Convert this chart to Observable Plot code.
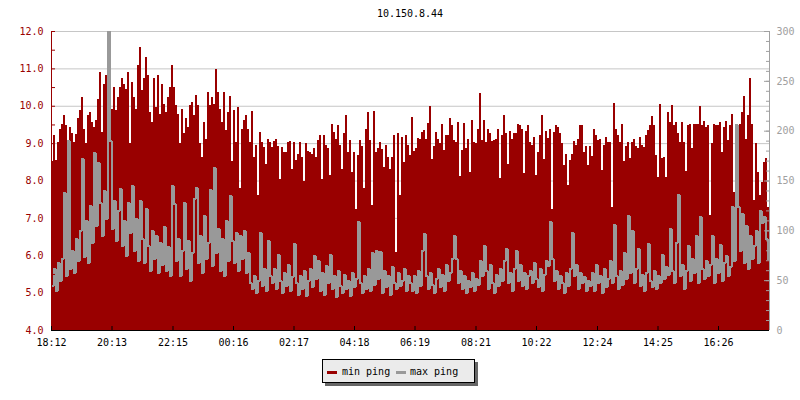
<!DOCTYPE html>
<html>
<head>
<meta charset="utf-8">
<script src="https://cdn.jsdelivr.net/npm/d3@7"></script>
<script src="https://cdn.jsdelivr.net/npm/@observablehq/plot@0.6"></script>
<style>
  body { margin: 0; background: #fff; }
  #wrap { position: relative; width: 800px; height: 400px; font-family: "DejaVu Sans Mono", monospace; font-size: 10px; color: #000; }
  #title { height: 22px; box-sizing: border-box; padding-top: 8px; line-height: 12px; margin-left: 51px; width: 718px; text-align: center; }
  #chart svg { display: block; }
  #legendArea { position: relative; height: 50px; }
  #legend { position: absolute; left: 322px; top: 9px; width: 151px; height: 22px; background: #ebebeb; border: 1px solid #000; box-shadow: 3px 3px 0 #666; }
  .sw { position: absolute; top: 11px; width: 10px; height: 3px; }
  .lt { position: absolute; top: 6px; line-height: 12px; white-space: nowrap; }
</style>
</head>
<body>
<div id="wrap">
  <div id="title"></div>
  <div id="chart"></div>
  <div id="legendArea"><div id="legend"></div></div>
</div>
<script>
const titleText = "10.150.8.44";
const seriesNames = ["min ping", "max ping"];
const seriesColors = ["#990000", "#999999"];

// time axis: minutes after 18:12, one sample every 4 minutes
const sampleMinutes = 4;
const xTickMinutes = [0, 121, 243, 364, 485, 606, 727, 849, 970, 1092, 1213, 1334];
const xTickLabels = ["18:12", "20:13", "22:15", "00:16", "02:17", "04:18", "06:19", "08:21", "10:22", "12:24", "14:25", "16:26"];
const xEnd = 1436;

const leftTicks = [4, 5, 6, 7, 8, 9, 10, 11, 12];
const leftMinorTicks = [4, 4.5, 5, 5.5, 6, 6.5, 7, 7.5, 8, 8.5, 9, 9.5, 10, 10.5, 11, 11.5, 12];
const rightTicks = [0, 50, 100, 150, 200, 250, 300];
const rightMinorTicks = [0,10,20,30,40,50,60,70,80,90,100,110,120,130,140,150,160,170,180,190,200,210,220,230,240,250,260,270,280,290,300];
const rightMax = 300;

// min ping (ms, left axis)
const minPing = [
  8.52, 9.21, 8.54, 9.02, 9.39, 9.51, 9.75, 9.48, 9.08, 9.43,
  9.26, 9.03, 9.25, 9.66, 9.88, 10.24, 9.39, 8.99, 9.75, 9.84,
  9.57, 9.43, 9.61, 10.19, 10.90, 9.30, 10.57, 10.81, 10.33, 11.26,
  9.92, 10.50, 9.88, 10.24, 10.50, 10.73, 10.59, 10.46, 10.90, 8.99,
  10.64, 10.24, 9.92, 11.08, 11.57, 10.41, 10.73, 11.30, 10.81, 9.84,
  9.57, 10.73, 9.97, 10.81, 9.79, 10.59, 10.06, 9.84, 10.24, 10.50,
  11.10, 10.50, 10.01, 9.79, 8.99, 9.92, 9.26, 9.66, 9.43, 10.01,
  10.10, 9.75, 10.28, 10.01, 8.99, 8.63, 9.57, 9.12, 10.37, 10.01,
  10.24, 10.06, 10.99, 10.37, 9.92, 9.57, 10.37, 9.35, 9.84,
  10.26, 8.52, 9.88, 9.03, 9.97, 7.79, 9.39, 9.61, 9.75, 9.37,
  9.03, 9.85, 8.63, 8.94, 7.61, 9.30, 9.02, 8.90, 8.45, 9.12,
  9.03, 8.90, 9.05, 9.12, 8.93, 8.05, 8.90, 8.77, 8.77, 9.02,
  9.05, 8.30, 9.02, 8.54, 8.72, 9.03, 8.63, 7.98, 8.99, 8.78,
  8.77, 8.72, 8.87, 8.63, 9.08, 9.21, 8.05, 9.21, 8.94, 8.86,
  8.14, 9.52, 9.30, 9.12, 9.48, 8.94, 8.32, 9.26, 9.75, 8.77,
  9.08, 8.23, 8.77, 7.25, 8.68, 9.08, 8.93, 7.79, 9.39, 9.84,
  9.08, 7.34, 9.85, 8.77, 8.86, 9.03, 8.84, 8.37, 8.94, 8.63,
  8.32, 8.63, 9.21, 6.09, 9.28, 7.61, 9.17, 8.50, 9.21, 8.94,
  8.68, 9.70, 8.78, 8.87, 9.14, 9.12, 9.30, 9.35, 9.12, 9.55,
  10.00, 8.57, 8.93, 9.30, 9.12, 8.99, 9.50, 8.81, 9.21, 9.21,
  9.66, 9.48, 9.08, 9.03, 9.57, 8.12, 8.81, 9.55, 8.87, 9.12,
  8.23, 9.61, 9.03, 8.99, 9.37, 10.35, 9.08, 9.61, 9.03, 9.37,
  9.28, 9.05, 9.08, 9.10, 9.39, 8.07, 9.21, 9.76, 9.26, 8.43,
  9.32, 9.12, 9.28, 9.28, 9.50, 9.48, 9.37, 8.19, 9.32, 9.48,
  9.03, 8.94, 9.17, 8.14, 8.75, 9.21, 9.75, 8.57, 9.32, 9.14,
  9.37, 7.25, 9.30, 9.48, 9.43, 9.26, 8.99, 8.41, 8.72, 7.88,
  8.54, 8.72, 9.05, 8.94, 9.12, 9.48, 9.48, 8.77, 8.93, 8.41,
  8.93, 8.66, 9.37, 9.21, 9.08, 9.12, 8.28, 8.94, 9.17, 9.03,
  9.03, 7.30, 10.08, 9.39, 9.23, 9.03, 9.51, 8.52, 8.93, 9.02,
  8.61, 9.02, 9.12, 8.93, 8.86, 9.17, 8.96, 8.90, 9.21, 9.35,
  9.48, 9.73, 9.48, 8.68, 8.10, 10.06, 8.61, 8.63, 8.10, 9.82,
  9.57, 10.01, 9.48, 9.57, 9.26, 9.02, 9.57, 9.03, 8.25, 9.48,
  9.52, 8.86, 9.50, 9.50, 9.51, 10.00, 9.48, 9.59, 9.43, 9.48,
  7.07, 8.99, 9.50, 9.48, 9.48, 9.57, 8.77, 9.43, 9.59, 9.08,
  9.48, 9.79, 7.70, 9.48, 9.43, 9.52, 9.82, 10.26, 9.12, 9.75,
  10.74, 9.52, 7.47, 8.99, 8.23, 7.61, 7.96, 8.50, 8.59, 7.30
];

// max ping (ms, right axis)
const maxPing = [
  45, 62, 40, 68, 50, 72, 138, 55, 190, 62,
  80, 58, 92, 70, 100, 172, 74, 110, 68, 125,
  88, 178, 105, 168, 128, 95, 140, 112, 300, 190,
  102, 130, 90, 120, 142, 85, 110, 75, 128, 98,
  145, 80, 112, 70, 130, 92, 68, 122, 85, 60,
  100, 72, 95, 58, 88, 66, 104, 60, 84, 55,
  145, 127, 70, 92, 55, 80, 128, 62, 90, 50,
  78, 132, 143, 68, 95, 58, 115, 72, 88, 141,
  65, 163, 78, 102, 60, 92, 55, 110, 70,
  135, 90, 68, 98, 60, 95, 72, 100, 58, 78,
  48, 42, 55, 38, 50, 98, 45, 62, 40, 90,
  55, 48, 62, 42, 76, 50, 38, 58, 45, 66,
  40, 54, 87, 48, 36, 55, 42, 60, 35, 50,
  62, 44, 75, 52, 70, 40, 58, 36, 65, 48,
  76, 42, 55, 34, 60, 45, 38, 56, 42, 50,
  35, 58, 44, 52, 109, 48, 38, 55, 42, 62,
  40, 78, 46, 80, 52, 79, 38, 60, 44, 55,
  36, 64, 48, 42, 58, 45, 50, 62, 40, 55,
  48, 40, 55, 38, 60, 45, 80, 97, 55, 42,
  58, 46, 38, 52, 62, 44, 56, 40, 66, 50,
  58, 72, 95, 72, 48, 60, 42, 55, 38, 50,
  44, 58, 40, 52, 46, 70, 55, 85, 60, 42,
  66, 48, 38, 56, 45, 62, 50, 70, 82, 48,
  58, 40, 62, 80, 50, 66, 45, 58, 42, 55,
  60, 48, 68, 52, 44, 62, 40, 56, 70, 65,
  109, 72, 50, 60, 42, 55, 48, 38, 58, 45,
  62, 98, 55, 66, 42, 58, 48, 54, 40, 50,
  45, 58, 40, 66, 48, 55, 38, 62, 44, 52,
  70, 48, 106, 55, 42, 60, 46, 78, 52, 115,
  58, 100, 48, 62, 82, 45, 56, 40, 58, 87,
  50, 44, 60, 42, 55, 48, 76, 52, 64, 56,
  102, 60, 48, 88, 136, 55, 66, 42, 60, 85,
  50, 72, 58, 95, 48, 114, 62, 52, 70, 55,
  66, 95, 48, 72, 58, 86, 50, 68, 75, 55,
  64, 124, 70, 206, 124, 80, 117, 68, 105, 62,
  95, 72, 85, 100, 68, 120, 108, 114, 92, 72
];

// build table
const yMin = leftTicks[0], yMaxL = leftTicks[leftTicks.length - 1];
const ratio = rightMax / (yMaxL - yMin);
const toLeft = v => yMin + v / ratio;
const rows = minPing.map((v, i) => ({t: i * sampleMinutes, min: v, max: maxPing[i]}));
rows.push({t: xEnd, min: minPing[minPing.length - 1], max: maxPing[maxPing.length - 1]});

document.getElementById("title").textContent = titleText;

const font = '"DejaVu Sans Mono", monospace';
const chart = Plot.plot({
  width: 800,
  height: 328,
  marginTop: 9,
  marginBottom: 20,
  marginLeft: 51,
  marginRight: 31,
  style: {fontFamily: font, fontSize: "10px", background: "white", overflow: "visible"},
  x: {domain: [0, xEnd], axis: null},
  y: {domain: [yMin, yMaxL], axis: null},
  marks: [
    Plot.ruleY(leftTicks.slice(1), {stroke: "#c6c6c6"}),
    Plot.areaY(rows, {x: "t", y1: yMin, y2: "min", curve: "step-after", fill: seriesColors[0], shapeRendering: "crispEdges"}),
    Plot.line(rows, {x: "t", y: d => toLeft(d.max), curve: "step-after", stroke: seriesColors[1], strokeWidth: 2, strokeLinejoin: "miter", strokeLinecap: "butt", shapeRendering: "crispEdges", clip: true}),
    // left axis
    Plot.ruleX([0], {stroke: "#990000"}),
    Plot.tickY(leftMinorTicks, {stroke: "#990000", insetRight: 714}),
    Plot.axisY({anchor: "left", label: null, ticks: leftTicks, tickFormat: d => d.toFixed(1), tickSize: 0, tickPadding: 8, color: "#990000", fontFamily: font, fontSize: 10}),
    // right axis
    Plot.ruleX([xEnd], {stroke: "#a0a0a0"}),
    Plot.tickY(rightMinorTicks.map(toLeft), {stroke: "#a0a0a0", insetLeft: 715}),
    Plot.tickY(rightTicks.map(toLeft), {stroke: "#a0a0a0", insetLeft: 713}),
    Plot.axisY({anchor: "right", label: null, ticks: rightTicks.map(toLeft), tickFormat: d => String(Math.round((d - yMin) * ratio)), tickSize: 0, tickPadding: 7, color: "#a0a0a0", fontFamily: font, fontSize: 10}),
    // bottom axis
    Plot.ruleY([yMin], {stroke: "#000"}),
    Plot.tickX(xTickMinutes, {stroke: "#000", insetTop: 295}),
    Plot.axisX({anchor: "bottom", label: null, ticks: xTickMinutes, tickFormat: d => xTickLabels[xTickMinutes.indexOf(d)], tickSize: 0, tickPadding: 8, color: "#000", fontFamily: font, fontSize: 10})
  ]
});
document.getElementById("chart").appendChild(chart);

// legend
const legend = document.getElementById("legend");
const swLeft = [4, 73], txtLeft = [19, 87];
seriesNames.forEach((name, i) => {
  const sw = document.createElement("div");
  sw.className = "sw";
  sw.style.left = swLeft[i] + "px";
  sw.style.background = seriesColors[i];
  legend.appendChild(sw);
  const t = document.createElement("span");
  t.className = "lt";
  t.style.left = txtLeft[i] + "px";
  t.textContent = name;
  legend.appendChild(t);
});
</script>
</body>
</html>
